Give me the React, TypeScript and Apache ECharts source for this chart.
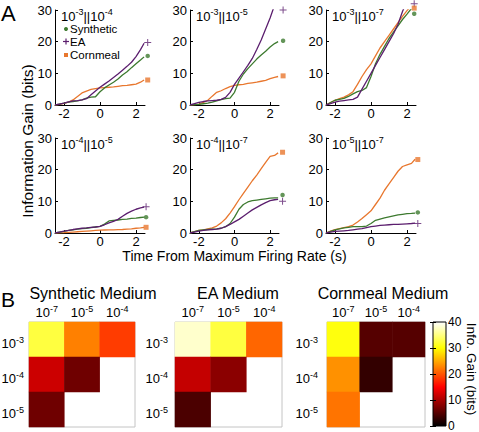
import React, { useEffect, useRef } from 'react';
import * as echarts from 'echarts';

const FONT = '"Liberation Sans", Arial, Helvetica, sans-serif';
const PURPLE = '#5b1e6e';
const GREEN = '#3d7a2f';
const ORANGE = '#e8772e';

// time axis (s)
const TIME = [-2.5, -2.25, -2, -1.75, -1.5, -1.25, -1, -0.75, -0.5, -0.25, 0, 0.25, 0.5, 0.75, 1, 1.25, 1.5, 1.75, 2, 2.25, 2.45];
const X_TICKS = [-2, 0, 2];

// 10^-3 || 10^-4
const syn34 = [0, 0.3, 0.6, 0.9, 1.1, 1.3, 1.6, 2.2, 2.5, 2.6, 4.2, 5.4, 6.3, 7.2, 8.2, 9.5, 10.5, 11.8, 13, 14.2, 15.2];
const ea34 = [0, 0.3, 0.6, 1, 1.3, 1.4, 1.6, 2, 3.2, 4.4, 5.6, 6.6, 7.6, 8.7, 9.8, 11, 12.2, 13.5, 15.3, 17.5, 19.5];
const corn34 = [0, 0.2, 0.5, 0.9, 1.6, 2.7, 3.8, 4.4, 4.9, 5.2, 5.4, 5.5, 5.6, 5.7, 5.9, 6.1, 6.2, 6.4, 6.6, 7.2, 7.9];
// 10^-3 || 10^-5
const syn35 = [0, 0.1, 0.2, 0.4, 0.6, 0.9, 1.3, 1.7, 2, 2.2, 4, 7.5, 9.8, 11.5, 13, 14.5, 15.8, 17, 18.3, 19.4, 20];
const ea35 = [0, 0.4, 0.8, 1.1, 1.3, 1.4, 1.5, 1.8, 2.4, 4, 6.5, 8.5, 10.5, 12.5, 14.7, 17.5, 20.5, 24, 27.5, 31.5, 34];
const corn35 = [0, 0.1, 0.3, 0.8, 1.5, 2.8, 4, 4.5, 5.2, 5.8, 6.2, 6.4, 6.5, 6.8, 7, 7.2, 7.5, 7.8, 8.3, 8.7, 9];
// 10^-3 || 10^-7
const syn37 = [0, 0.8, 1.5, 1.8, 2.1, 2.7, 3.5, 4.2, 4.6, 5.5, 9, 13, 16, 18.5, 21, 23, 25, 27, 28.7, 30.5, 32];
const ea37 = [0, 0.4, 0.9, 1.2, 1.4, 1.6, 1.8, 2.5, 5, 7.5, 10, 12.5, 15, 17.5, 20, 22.5, 25.5, 29.5, 33, 36, 38];
const corn37 = [0, 0.8, 1.5, 2, 2.5, 3.2, 4.2, 6.5, 9, 11.2, 13, 15.5, 18, 20, 22, 24, 26, 28, 29.8, 31.5, 33];
// 10^-4 || 10^-5
const syn45 = [0, 0.3, 0.5, 0.8, 1, 1.2, 1.4, 1.5, 1.7, 1.9, 2.1, 2.8, 3.8, 4, 4.1, 4.3, 4.4, 4.6, 4.7, 4.9, 5];
const ea45 = [0, 0.3, 0.6, 0.8, 1.1, 1.3, 1.5, 1.6, 1.8, 1.9, 2.1, 2.6, 3.2, 3.7, 4.3, 5.3, 6.2, 6.9, 7.5, 7.9, 8.2];
const corn45 = [0, 0.05, 0.1, 0.2, 0.3, 0.4, 0.5, 0.6, 0.7, 0.8, 0.9, 0.95, 1, 1, 1.05, 1.1, 1.2, 1.3, 1.5, 1.6, 1.8];
// 10^-4 || 10^-7
const syn47 = [0, 0.4, 0.8, 1, 1.1, 1.2, 1.3, 1.5, 2, 3, 5, 7.5, 9, 9.8, 10.2, 10.4, 10.6, 10.8, 11, 11.1, 11.1];
const ea47 = [0, 0.3, 0.6, 0.8, 1, 1.1, 1.2, 1.5, 2, 2.7, 3.5, 4.3, 5.3, 6.3, 7.3, 8.1, 8.9, 9.6, 10.2, 10.5, 10.6];
const corn47 = [0, 0.4, 0.8, 1, 1.3, 1.6, 2.2, 3.2, 4.5, 6.3, 8.3, 10.5, 12.5, 14.5, 16.5, 18.3, 20.3, 22.3, 24.2, 24.5, 25.3];
// 10^-5 || 10^-7
const syn57 = [0, 0.5, 1, 1.3, 1.6, 1.8, 2, 2, 2, 2.2, 3, 4, 4.4, 4.8, 5.1, 5.4, 5.7, 5.9, 6.1, 6.2, 6.3];
const ea57 = [0, 0.3, 0.5, 0.6, 0.7, 0.8, 1, 1.2, 1.4, 1.7, 2, 2.2, 2.4, 2.5, 2.6, 2.7, 2.7, 2.8, 2.9, 3, 3.1];
const corn57 = [0, 0.6, 1.1, 1.4, 1.7, 2, 2.5, 3.5, 4.6, 5.8, 7, 9, 11, 13.5, 15.5, 17.5, 19.5, 21, 21.5, 22, 23.3];

// end markers
const MARKER_X = [2.65, 2.73, 2.4, 2.56, 2.7, 2.6];
const END_SYN = [15.5, 20.3, 28.8, 5, 12, 6.5];
const END_EA = [19.7, 30, 32, 8.3, 10, 3];
const END_CORN = [7.9, 9.2, 30.6, 1.8, 25.5, 23.2];

const PANEL_EXP = [['-3', '-4'], ['-3', '-5'], ['-3', '-7'], ['-4', '-5'], ['-4', '-7'], ['-5', '-7']];
const PANEL_SYN = [syn34, syn35, syn37, syn45, syn47, syn57];
const PANEL_EA = [ea34, ea35, ea37, ea45, ea47, ea57];
const PANEL_CORN = [corn34, corn35, corn37, corn45, corn47, corn57];

// heatmaps (rows: 10^-3,10^-4,10^-5 ; cols: 10^-7,10^-5,10^-4)
const HEAT_COLS = ['-7', '-5', '-4'];
const HEAT_ROWS = ['-3', '-4', '-5'];
const SYN_HEAT = [[32.5, 22.5, 18.5], [12, 6.5, null], [6.5, null, null]];
const EA_HEAT = [[38, 32.5, 21], [11.5, 8.2, null], [4.4, null, null]];
const CORN_HEAT = [[30.5, 5, 5], [23.5, 3, null], [21.8, null, null]];
const MEDIA = ['Synthetic Medium', 'EA Medium', 'Cornmeal Medium'];
const LEGEND_NAMES = ['Synthetic', 'EA', 'Cornmeal'];
const COLOR_TICKS_MAX = 40;

const HOT = ['#000000', '#550000', '#aa0000', '#ff0000', '#ff5500', '#ffaa00', '#ffff00', '#ffff80', '#ffffff'];

const PLUS = 'path://M3,0H4V3H7V4H4V7H3V4H0V3H3Z';

const supRich = (size: number, sup: number, lh: number) => ({
  b: { fontSize: size, lineHeight: lh, fontFamily: FONT, color: '#000', fill: '#000' },
  s: { fontSize: sup, lineHeight: sup + 1, verticalAlign: 'top', fontFamily: FONT, color: '#000', fill: '#000' },
});

function buildOption() {
  const grid: any[] = [];
  const xAxis: any[] = [];
  const yAxis: any[] = [];
  const series: any[] = [];
  const graphic: any[] = [];

  const colLefts = [55, 190, 326];
  const colWidths = [90, 89, 90];
  const rowTops = [10, 138];
  const plotH = 95;

  PANEL_EXP.forEach((exp, i) => {
    const r = Math.floor(i / 3);
    const c = i % 3;
    grid.push({ left: colLefts[c], top: rowTops[r], width: colWidths[c], height: plotH, containLabel: false, outerBoundsMode: 'none' });
    xAxis.push({
      type: 'value', gridIndex: i, min: -2.5, max: 2.5,
      axisLine: { onZero: false, lineStyle: { color: '#000', width: 1 } },
      axisTick: { show: true, inside: true, length: 3, customValues: X_TICKS, lineStyle: { color: '#000' } },
      axisLabel: { customValues: X_TICKS, margin: 2, fontSize: 13, lineHeight: 12, color: '#000', fontFamily: FONT },
      splitLine: { show: false },
    });
    yAxis.push({
      type: 'value', gridIndex: i, min: 0, max: 30, interval: 10,
      axisLine: { show: true, onZero: false, lineStyle: { color: '#000', width: 1 } },
      axisTick: { show: true, inside: true, length: 3, lineStyle: { color: '#000' } },
      axisLabel: { margin: 3, fontSize: 13, color: '#000', fontFamily: FONT },
      splitLine: { show: false },
    });
    const line = (name: string, data: number[], color: string) => ({
      type: 'line', name, xAxisIndex: i, yAxisIndex: i,
      data: TIME.map((t, k) => [t, data[k]]),
      symbol: 'none', showSymbol: false, clip: true, silent: true,
      lineStyle: { color, width: 1.3 }, itemStyle: { color },
    });
    series.push(line('Cornmeal', PANEL_CORN[i], ORANGE));
    series.push(line('Synthetic', PANEL_SYN[i], GREEN));
    series.push(line('EA', PANEL_EA[i], PURPLE));
    series.push({ type: 'scatter', name: 'Synthetic', xAxisIndex: i, yAxisIndex: i, data: [[MARKER_X[i], END_SYN[i]]], symbol: 'circle', symbolSize: 4.5, itemStyle: { color: GREEN }, clip: false, silent: true });
    series.push({ type: 'scatter', name: 'EA', xAxisIndex: i, yAxisIndex: i, data: [[MARKER_X[i], END_EA[i]]], symbol: PLUS, symbolSize: 7, itemStyle: { color: PURPLE }, clip: false, silent: true });
    series.push({ type: 'scatter', name: 'Cornmeal', xAxisIndex: i, yAxisIndex: i, data: [[MARKER_X[i], END_CORN[i]]], symbol: 'rect', symbolSize: 5, itemStyle: { color: ORANGE }, clip: false, silent: true });

    graphic.push({
      type: 'text', x: colLefts[c] + 6, y: rowTops[r] - 2.5,
      style: { text: `{b|10}{s|${exp[0]}}{b|||10}{s|${exp[1]}}`, rich: supRich(13, 9, 18), align: 'left', verticalAlign: 'top' },
    });
  });

  // heatmaps
  const heatLefts = [29, 175, 327];
  const heatWidths = [106, 107, 98];
  const heatTop = 322;
  const heatH = 105;
  const rowMargins = [5, 7, 9];
  const heatSets = [SYN_HEAT, EA_HEAT, CORN_HEAT];
  const heatSeriesIdx: number[] = [];
  const titleX = [93, 238, 383];
  heatSets.forEach((mat, h) => {
    const gi = grid.length;
    grid.push({ left: heatLefts[h], top: heatTop, width: heatWidths[h], height: heatH, show: true, borderColor: '#c4c4c4', borderWidth: 1, backgroundColor: '#fff', containLabel: false, outerBoundsMode: 'none' });
    xAxis.push({
      type: 'category', gridIndex: gi, data: HEAT_COLS, position: 'top',
      axisLine: { show: false }, axisTick: { show: false }, splitLine: { show: false },
      axisLabel: { margin: 2, interval: 0, formatter: (v: string) => `{b|10}{s|${v}}`, rich: supRich(13, 9, 16) },
    });
    yAxis.push({
      type: 'category', gridIndex: gi, data: HEAT_ROWS, inverse: true,
      axisLine: { show: false }, axisTick: { show: false }, splitLine: { show: false },
      axisLabel: { margin: rowMargins[h], interval: 0, padding: [7, 0, 0, 0], formatter: (v: string) => `{b|10}{s|${v}}`, rich: supRich(13, 9, 16) },
    });
    const data: any[] = [];
    mat.forEach((row, ri) => row.forEach((v, ci) => { if (v != null) data.push([ci, ri, v]); }));
    heatSeriesIdx.push(series.length);
    series.push({ type: 'heatmap', xAxisIndex: gi, yAxisIndex: gi, data, silent: true, itemStyle: { borderWidth: 0 } });
    graphic.push({ type: 'text', x: titleX[h], y: 293, style: { text: MEDIA[h], fontSize: 16, fontFamily: FONT, fill: '#000', align: 'center', verticalAlign: 'middle' } });
  });

  // colorbar
  const cbi = grid.length;
  grid.push({
    left: 433, top: 322, width: 13, height: 104, show: true, borderColor: '#000', borderWidth: 1,
    backgroundColor: new echarts.graphic.LinearGradient(0, 1, 0, 0, HOT.map((c, k) => ({ offset: k / (HOT.length - 1), color: c }))),
    containLabel: false, outerBoundsMode: 'none',
  });
  xAxis.push({ type: 'value', gridIndex: cbi, show: false, min: 0, max: 1 });
  yAxis.push({
    type: 'value', gridIndex: cbi, min: 0, max: COLOR_TICKS_MAX, interval: 10, position: 'right',
    axisLine: { show: false }, splitLine: { show: false },
    axisTick: { show: true, inside: true, length: 3, lineStyle: { color: '#000' } },
    axisLabel: { margin: 2, fontSize: 12, color: '#000', fontFamily: FONT },
  });
  yAxis.push({
    type: 'value', gridIndex: cbi, min: 0, max: COLOR_TICKS_MAX, interval: 10, position: 'left',
    axisLine: { show: false }, splitLine: { show: false },
    axisTick: { show: true, inside: true, length: 3, lineStyle: { color: '#000' } },
    axisLabel: { show: false },
  });

  const legendY = [28.5, 41.5, 54.5];
  const legendText = (text: string, y: number) => ({
    type: 'text', x: 70, y,
    style: { text, fontSize: 11.5, lineHeight: 10, fontFamily: FONT, fill: '#000', align: 'left', verticalAlign: 'middle' },
  });

  graphic.push(
    { type: 'text', x: 1, y: 13, style: { text: 'A', fontSize: 22, fontFamily: FONT, fill: '#000', align: 'left', verticalAlign: 'middle' } },
    { type: 'text', x: 1, y: 299, style: { text: 'B', fontSize: 21, fontFamily: FONT, fill: '#000', align: 'left', verticalAlign: 'middle' } },
    { type: 'text', x: 27, y: 141, rotation: Math.PI / 2, style: { text: 'Information Gain (bits)', fontSize: 15.5, fontFamily: FONT, fill: '#000', align: 'center', verticalAlign: 'middle' } },
    { type: 'text', x: 234.5, y: 256, style: { text: 'Time From Maximum Firing Rate (s)', fontSize: 14, lineHeight: 12, fontFamily: FONT, fill: '#000', align: 'center', verticalAlign: 'middle' } },
    { type: 'text', x: 471, y: 369, rotation: -Math.PI / 2, style: { text: 'Info. Gain (bits)', fontSize: 13.5, fontFamily: FONT, fill: '#000', align: 'center', verticalAlign: 'middle' } },
    // legend
    { type: 'circle', shape: { cx: 66, cy: legendY[0] + 0.5, r: 2 }, style: { fill: GREEN } },
    legendText(LEGEND_NAMES[0], legendY[0]),
    { type: 'rect', shape: { x: 63, y: legendY[1] - 0.6, width: 6, height: 1.2 }, style: { fill: PURPLE } },
    { type: 'rect', shape: { x: 65.4, y: legendY[1] - 3, width: 1.2, height: 6 }, style: { fill: PURPLE } },
    legendText(LEGEND_NAMES[1], legendY[1]),
    { type: 'rect', shape: { x: 64, y: legendY[2] - 1.5, width: 4, height: 4 }, style: { fill: ORANGE } },
    legendText(LEGEND_NAMES[2], legendY[2]),
  );

  return {
    animation: false,
    backgroundColor: '#fff',
    textStyle: { fontFamily: FONT },
    grid, xAxis, yAxis, series, graphic,
    visualMap: {
      type: 'continuous', show: false, min: 0, max: COLOR_TICKS_MAX, dimension: 2,
      seriesIndex: heatSeriesIdx, inRange: { color: HOT },
    },
  };
}

export default function App() {
  const ref = useRef<HTMLDivElement>(null);
  useEffect(() => {
    const chart = echarts.init(ref.current!, null, { renderer: 'svg' });
    chart.setOption(buildOption() as any);
    return () => chart.dispose();
  }, []);
  return <div ref={ref} style={{ position: 'absolute', left: 0, top: 0, width: 479, height: 432 }} />;
}
